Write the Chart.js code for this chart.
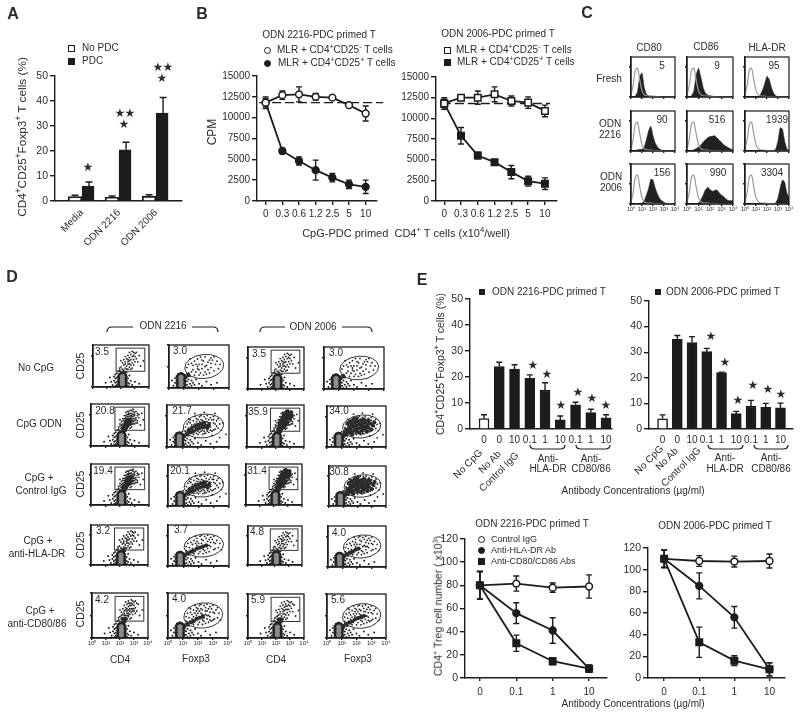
<!DOCTYPE html>
<html>
<head>
<meta charset="utf-8">
<script src="https://cdn.jsdelivr.net/npm/chart.js@4"></script>
<style>
  html, body { margin: 0; padding: 0; background: #fff; }
  #page { position: relative; width: 800px; height: 714px; overflow: hidden; font-family: "Liberation Sans", Arial, sans-serif; color: #2b2b2b; filter: blur(0.3px); }
  canvas { position: absolute; }
  .t { position: absolute; white-space: nowrap; transform: translate(-50%, -50%); line-height: 1; }
  .l { position: absolute; white-space: nowrap; transform: translateY(-50%); line-height: 1; }
  sup { font-size: 70%; line-height: 0; }
  svg { position: absolute; left: 0; top: 0; }
</style>
</head>
<body>
<div id="page"></div>
<script>
// panel A
const aCategories = ['Media', 'ODN 2216', 'ODN 2006'];
const aGroups = [0, 1, 2];
const aNoPdc = [1.8, 1.5, 2];
const aNoPdcErr = [0.5, 0.5, 0.5];
const aPdc = [6, 20.5, 35.2];
const aPdcErr = [1.6, 3, 6.2];
const aTicksY = [0, 50, 10];

// panel B
const bDoses = ['0', '0.3', '0.6', '1.2', '2.5', '5', '10'];
const bIndex = [0, 1, 2, 3, 4, 5, 6];
const dashLevel = 11800;
const b1Open = [11800, 12700, 12800, 12500, 12400, 11500, 10500];
const b1OpenErr = [700, 500, 900, 400, 200, 300, 900];
const b1Filled = [11800, 6000, 4800, 3700, 2800, 2000, 1700];
const b1FilledErr = [500, 300, 500, 1200, 500, 500, 800];
const b2Open = [11800, 12500, 12500, 12900, 12100, 11900, 10900];
const b2OpenErr = [700, 300, 800, 900, 600, 700, 700];
const b2Filled = [11800, 7900, 5500, 4700, 3500, 2400, 2100];
const b2FilledErr = [500, 1000, 400, 300, 800, 600, 700];

// panel C, histogram heights over log bins 0, 0.2 ... 4
const logBins = [0, .2, .4, .6, .8, 1, 1.2, 1.4, 1.6, 1.8, 2, 2.2, 2.4, 2.6, 2.8, 3, 3.2, 3.4, 3.6, 3.8, 4];
const isotype = [4, 30, 68, 72, 42, 16, 6, 3, 2, 2, 1, 1, 1, 1, 0, 0, 0, 0, 0, 0, 0];
const histFresh80 = [0, 0, 2, 14, 52, 60, 24, 7, 3, 2, 2, 2, 1, 1, 1, 1, 0, 0, 0, 0, 0];
const histFresh86 = [0, 0, 3, 15, 55, 72, 50, 24, 10, 5, 3, 2, 1, 1, 1, 1, 0, 0, 0, 0, 0];
const histFreshDr = [0, 0, 0, 0, 0, 0, 1, 6, 18, 34, 52, 44, 24, 10, 3, 1, 1, 0, 0, 0, 0];
const hist2216_80 = [0, 0, 1, 3, 4, 4, 10, 28, 50, 62, 38, 20, 10, 5, 2, 1, 1, 0, 0, 0, 0];
const hist2216_86 = [0, 0, 1, 3, 6, 10, 15, 22, 28, 33, 36, 37, 38, 33, 27, 22, 15, 12, 8, 5, 3];
const hist2216_Dr = [0, 0, 0, 0, 0, 0, 0, 0, 0, 0, 0, 0, 0, 1, 5, 25, 58, 55, 25, 6, 1];
const hist2006_80 = [0, 0, 0, 0, 0, 2, 8, 22, 38, 62, 60, 40, 25, 14, 8, 4, 2, 1, 1, 0, 0];
const hist2006_86 = [0, 0, 0, 0, 0, 2, 10, 22, 35, 42, 36, 32, 34, 35, 28, 22, 18, 12, 9, 8, 8];
const hist2006_Dr = [0, 0, 0, 0, 0, 0, 0, 0, 0, 0, 0, 0, 0, 0, 3, 15, 40, 60, 55, 28, 15];
const histRows = [[histFresh80, histFresh86, histFreshDr], [hist2216_80, hist2216_86, hist2216_Dr], [hist2006_80, hist2006_86, hist2006_Dr]];
const histNumbers = [['5', '9', '95'], ['90', '516', '1939'], ['156', '990', '3304']];
const logTickLabels = ['10⁰', '10¹', '10²', '10³', '10⁴'];

// panel D, events in decades (x, y)
const cd4Core = [[2.1, .3], [2.1, .65], [2.1, 1]];
const cd4Low = [[1.4, .2], [1.5, .6], [1.5, 1], [1.6, .1], [1.6, .4], [1.6, .8], [1.6, 1.2], [1.7, .2], [1.7, .5], [1.7, .9], [1.7, 1.3], [1.8, .1], [1.8, .3], [1.8, .7], [1.8, 1], [1.8, 1.5], [1.9, .2], [1.9, .6], [1.9, 1.2], [1.9, 1.6], [2, .1], [2, .4], [2, 1.4], [2.1, .1], [2.1, 1.3], [2.1, 1.7], [2.2, .2], [2.2, .9], [2.2, 1.5], [2.3, .1], [2.3, .5], [2.3, .8], [2.3, 1.2], [2.4, .2], [2.4, .6], [2.4, 1], [2.4, 1.4], [2.5, .1], [2.5, .4], [2.5, .8], [2.6, .3], [2.6, 1.1], [2.7, .6], [2.8, .2], [1.3, .5], [1.2, .9], [3, .5], [3.3, .3], [.9, .4]];
const cd4High = [[2.3, 1.8], [2.5, 2.2], [2.7, 2.6], [2.9, 3], [2.6, 3.3], [2.2, 2.1], [2.8, 2.3], [3.1, 2.7], [2.4, 2.7], [2.6, 1.9], [2, 1.9], [2.3, 2.4], [2.9, 2.6], [2.7, 3.1], [3, 3.2], [2.5, 1.7], [2.1, 2.3], [3.2, 2.4], [2.8, 1.8], [2.4, 2], [2.6, 2.5], [3, 2.9], [2.5, 3], [2.8, 3.4], [2.2, 1.6], [2.7, 2.1], [3.3, 3], [2.3, 2.9], [2.9, 2.1], [2.5, 2.4], [2.6, 2.8], [3.1, 3.3], [2, 2.5], [2.4, 1.7], [2.8, 2.9], [3.4, 2], [2.7, 1.7], [2.3, 2.2], [2.9, 3.3], [2.6, 2.2], [3.6, 2.5], [1.9, 1.8], [2.2, 2.6], [3, 2.4], [2.5, 2.6], [2.7, 2.9], [2.4, 3.2], [2.8, 2.6], [3.2, 3.1], [2.1, 2], [2.6, 3.1], [2.9, 2.4], [2.3, 2], [2.7, 2.4], [3.1, 2.2], [2.5, 2], [2.8, 3.1], [2.4, 2.5], [3, 2.6], [2.6, 2], [2.2, 2.4], [2.9, 2.8], [2.7, 3.4], [3.3, 2.7], [2.3, 2.6], [2.5, 2.8], [2.8, 2.1], [3, 3], [2.4, 2.3], [2.6, 2.6], [2.1, 1.7], [2.7, 2.2], [3.2, 2.9], [2.9, 3.5], [2.5, 3.3], [3.5, 3.1], [2, 2.1], [2.8, 2.4], [2.3, 1.7], [2.6, 2.4], [3.1, 2.5], [2.7, 2.7], [2.4, 2.9], [2.9, 2.3], [3, 2.1], [2.2, 1.9], [2.5, 2.5], [2.8, 2.8], [2.6, 3], [3.2, 2.2]];
const cd4Dense = [[2.2, 1.3], [2.3, 1.5], [2.2, 1.7], [2.4, 1.7], [2.5, 1.9], [2.3, 1.9], [2.5, 2.1], [2.4, 2.2], [2.6, 2.3], [2.7, 2.1], [2.5, 2.5], [2.7, 2.5], [2.6, 2.7], [2.8, 2.7], [2.7, 2.9], [2.9, 2.9], [2.8, 3.1], [3, 3.1], [2.9, 3.3], [2.6, 3.1], [3.1, 3.3], [2.4, 2.5], [2.8, 2.3], [2.2, 1.5], [2.6, 1.9], [3, 2.7], [2.5, 2.8], [2.8, 3.4], [3.1, 2.9], [2.3, 2.2]];
const foxCore = [[.8, .3], [.8, .65], [.8, 1]];
const foxLow = [[.3, .2], [.4, .5], [.4, .9], [.5, .1], [.5, .4], [.5, .7], [.5, 1.1], [.6, .2], [.6, .9], [.6, 1.3], [.7, .1], [.7, 1.2], [.8, 1.4], [.9, 1.3], [1, .1], [1, .5], [1, 1.2], [1.1, .2], [1.1, .7], [1.1, 1], [1.2, .3], [1.2, .6], [1.2, 1.3], [1.3, .1], [1.3, .8], [1.4, .4], [1.4, 1.1], [1.5, .2], [1.5, .7], [1.6, .5], [1.7, .3], [1.8, .8], [2, .4], [2.2, .2], [2.5, .6], [2.8, .3], [3.2, .5], [.2, .7]];
const foxHigh = [[1.3, 1.4], [1.6, 1.7], [1.9, 2], [2.2, 1.8], [2.5, 2.1], [2.8, 1.9], [3.1, 2.2], [1.5, 2.3], [1.9, 2.7], [2.3, 2.5], [2.7, 2.6], [3, 2.9], [1.2, 1.9], [1.7, 1.2], [2.1, 1.4], [2.4, 1.5], [2.6, 1.7], [3.3, 1.8], [1.4, 2.7], [2, 2.2], [2.4, 2.9], [2.8, 2.3], [1.8, 1.5], [2.2, 2.2], [2.6, 2.4], [3, 1.6], [1.6, 2.1], [2, 1.7], [2.5, 1.3], [2.9, 2.6], [1.1, 1.2], [1.7, 2.5], [2.1, 2.9], [2.3, 1.2], [2.7, 1.4], [3.2, 2.5], [3.4, 2.2], [1.5, 1.5], [1.9, 1.8], [2.4, 2], [2.8, 2.8], [2, 1.2], [1.3, 2.2], [1.8, 2.2], [2.2, 2.6], [2.6, 2], [3.1, 1.7], [1.6, 1.3], [2.1, 1.9], [2.5, 2.7], [1.4, 1.8], [1.9, 2.4], [2.3, 1.6], [2.7, 2], [3, 2.3], [3.5, 1.6], [1.8, 2.9], [2.2, 3], [2.6, 3], [1.2, 1.5], [1.7, 1.9], [2.1, 2.4], [2.4, 1.8], [2.9, 1.5], [3.3, 2.7], [1.5, 2.6], [2, 2.6], [2.5, 2.4], [2.8, 1.6], [2.3, 2.1], [3, 2.6], [1.6, 1.5], [2, 1.5], [2.4, 1.3], [2.7, 2.3], [1.9, 1.3], [2.2, 1.5], [2.6, 1.5], [3.2, 2], [3.6, 2.3], [1, 1.5], [1.4, 2.4], [3.8, 1.2], [3.4, .9], [2.9, 1.1], [3.1, 3.2], [2.4, 3.3], [1.8, 3.2]];
const foxDense = [[1.1, 1], [1.3, 1.2], [1.5, 1.4], [1.7, 1.5], [1.9, 1.7], [2.1, 1.8], [2.3, 1.9], [2.5, 2], [2.7, 2.1], [1.6, 1.8], [1.8, 2], [2, 2.1], [2.2, 2.2], [2.4, 2.3], [1.4, 1.6], [2.6, 1.8], [2, 1.5], [2.8, 1.9], [1.7, 2.2], [1.5, 2], [2.1, 2.5], [2.4, 1.6], [1.9, 2.4], [2.6, 2.4], [2.9, 2.3], [1.3, 1.7], [1.6, 2.5], [2.3, 2.6], [2.7, 1.5], [3.1, 2.1], [1.8, 2.7], [2.2, 1.4], [2.8, 2.6], [1.4, 2.3], [3, 1.7], [2, 2.8], [2.5, 2.7], [1.2, 1.4], [3.2, 2.4], [1.7, 1.2]];
const highCounts = [[45, 45, 45, 45], [90, 88, 90, 88], [90, 88, 90, 88], [45, 60, 45, 60], [60, 70, 50, 70]];
const denseCounts = [[1, 2, 1, 2], [12, 16, 30, 40], [14, 16, 30, 40], [2, 8, 1, 6], [4, 7, 4, 8]];
const dotPercents = [['3.5', '3.0', '3.5', '3.0'], ['20.8', '21.7', '35.9', '34.0'], ['19.4', '20.1', '31.4', '30.8'], ['3.2', '3.7', '4.8', '4.0'], ['4.2', '4.0', '5.9', '5.6']];

// panel E
const eDoses = ['0', '0', '10', '0.1', '1', '10', '0.1', '1', '10'];
const eIndex = [0, 1, 2, 3, 4, 5, 6, 7, 8];
const e1Values = [4, 24, 23, 19.5, 15, 3.5, 9.3, 6.3, 4.3];
const e1Err = [1.5, 1.7, 1.7, 1.3, 2.8, 1.5, 1, 1.3, 1.2];
const e2Values = [4, 35, 33.8, 30.2, 22, 6, 9, 8.5, 8.3];
const e2Err = [1.5, 1.5, 2.3, 1.3, 0.2, 0.9, 2.2, 1.5, 1.8];
const eConc = ['0', '0.1', '1', '10'];
const eConcIndex = [0, 1, 2, 3];
const e3Control = [80, 81.5, 78, 79];
const e3ControlErr = [12, 6.5, 4, 10];
const e3Hla = [80, 56, 41, 8];
const e3HlaErr = [12, 9, 11, 3];
const e3Cd = [80, 30, 14.5, 8];
const e3CdErr = [12, 7, 3, 3];
const e4Control = [110, 108, 107.5, 108];
const e4ControlErr = [8, 5, 5, 6.5];
const e4Hla = [110, 85, 56, 8];
const e4HlaErr = [8, 12, 10, 6];
const e4Cd = [110, 33, 16, 8];
const e4CdErr = [8, 14, 4.5, 6];

const page = document.getElementById('page');
const INK = '#1c1c1c';
const FONT = '"Liberation Sans", Arial, sans-serif';

Chart.defaults.font.family = FONT;
Chart.defaults.color = '#2b2b2b';
Chart.defaults.animation = false;

const label = (html, x, y, size, extra) => {
    const d = document.createElement('div');
    d.className = 't';
    d.innerHTML = html;
    d.style.left = x + 'px';
    d.style.top = y + 'px';
    d.style.fontSize = (size || 10) + 'px';
    if (extra) d.style.cssText += extra;
    page.appendChild(d);
};
const leftLabel = (html, x, y, size) => {
    const d = document.createElement('div');
    d.className = 'l';
    d.innerHTML = html;
    d.style.left = x + 'px';
    d.style.top = y + 'px';
    d.style.fontSize = (size || 10) + 'px';
    page.appendChild(d);
};
const rotated = (html, x, y, size, deg) => label(html, x, y, size, `transform:translate(-50%,-50%) rotate(${deg}deg);`);
const swatch = (x, y, s, fill, round) => {
    const d = document.createElement('div');
    d.style.cssText = `position:absolute;box-sizing:border-box;left:${x - s / 2}px;top:${y - s / 2}px;width:${s}px;height:${s}px;background:${fill};border:1.5px solid ${INK};${round ? 'border-radius:50%;' : ''}`;
    page.appendChild(d);
};
const star = (x, y) => label('★', x, y, 12, 'font-family:"DejaVu Sans";');

// error bars read from dataset.err, through the chart's own scales
const errorBars = {
    id: 'errorBars',
    beforeDatasetsDraw(chart) {
        const { ctx, scales } = chart;
        chart.data.datasets.forEach(ds => {
            if (!ds.err) return;
            ctx.save();
            ctx.strokeStyle = INK;
            ctx.lineWidth = 1.4;
            ds.data.forEach((p, i) => {
                const px = scales.x.getPixelForValue(p.x) + (ds.errShift || 0);
                const top = scales.y.getPixelForValue(p.y + ds.err[i]);
                const bot = ds.upOnly ? scales.y.getPixelForValue(p.y) : scales.y.getPixelForValue(p.y - ds.err[i]);
                const cap = ds.capSize || 3;
                ctx.beginPath();
                ctx.moveTo(px, bot);
                ctx.lineTo(px, top);
                ctx.moveTo(px - cap, top);
                ctx.lineTo(px + cap, top);
                if (!ds.upOnly) {
                    ctx.moveTo(px - cap, bot);
                    ctx.lineTo(px + cap, bot);
                }
                ctx.stroke();
            });
            ctx.restore();
        });
    }
};

const frame = (w, color) => ({
    id: 'frame',
    afterDraw(chart) {
        const { ctx, chartArea: a } = chart;
        ctx.save();
        ctx.strokeStyle = color || INK;
        ctx.lineWidth = w || 1.3;
        ctx.strokeRect(a.left, a.top, a.right - a.left, a.bottom - a.top);
        ctx.restore();
    }
});

const rectGate = (x0, x1, y0, y1) => ({
    id: 'rectGate',
    afterDatasetsDraw(chart) {
        const { ctx, scales: { x, y } } = chart;
        ctx.save();
        ctx.strokeStyle = '#333';
        ctx.lineWidth = 1;
        ctx.strokeRect(x.getPixelForValue(x0), y.getPixelForValue(y1), x.getPixelForValue(x1) - x.getPixelForValue(x0), y.getPixelForValue(y0) - y.getPixelForValue(y1));
        ctx.restore();
    }
});

const ellipseGate = (cx, cy, rx, ry, rot) => ({
    id: 'ellipseGate',
    afterDatasetsDraw(chart) {
        const { ctx, scales: { x, y } } = chart;
        ctx.save();
        ctx.strokeStyle = '#333';
        ctx.lineWidth = 1;
        ctx.beginPath();
        ctx.ellipse(x.getPixelForValue(cx), y.getPixelForValue(cy), Math.abs(x.getPixelForValue(cx + rx) - x.getPixelForValue(cx)), Math.abs(y.getPixelForValue(cy + ry) - y.getPixelForValue(cy)), rot || 0, 0, Math.PI * 2);
        ctx.stroke();
        ctx.restore();
    }
});

const noPadding = s => {
    s.paddingLeft = 0;
    s.paddingRight = 0;
    s.paddingTop = 0;
    s.paddingBottom = 0;
};

// box is the plot area on the page, pad the room round it for ticks
const makeChart = (box, pad, config, extraPlugins) => {
    const c = document.createElement('canvas');
    const w = box.r - box.l + pad.l + pad.r;
    const h = box.b - box.t + pad.t + pad.b;
    c.width = w;
    c.height = h;
    c.style.left = (box.l - pad.l) + 'px';
    c.style.top = (box.t - pad.t) + 'px';
    c.style.width = w + 'px';
    c.style.height = h + 'px';
    page.appendChild(c);
    const { x, y } = config.options.scales;
    x.afterFit = s => { s.height = pad.b; noPadding(s); };
    y.afterFit = s => { s.width = pad.l; noPadding(s); };
    config.options.responsive = false;
    config.options.maintainAspectRatio = false;
    config.options.layout = { padding: { left: 0, right: pad.r, top: pad.t, bottom: 0 } };
    config.options.plugins = { legend: { display: false }, tooltip: { enabled: false } };
    config.plugins = [errorBars].concat(extraPlugins || []);
    return new Chart(c, config);
};

const axisStyle = (tickLen, w) => ({
    grid: { display: true, drawOnChartArea: false, drawTicks: tickLen > 0, tickLength: tickLen, color: INK, lineWidth: w || 1.4, offset: false },
    border: { display: true, color: INK, width: w || 1.4 }
});

const yAxis = (min, max, step, size) => ({
    type: 'linear', min, max,
    ...axisStyle(5),
    ticks: { stepSize: step, font: { size: size || 10.5 }, padding: 2, callback: v => String(v) }
});

const xAxis = (min, max, vals, names, opts) => {
    const o = opts || {};
    return {
        type: 'linear', min, max, offset: false,
        ...axisStyle(o.tick === undefined ? 4 : o.tick),
        afterBuildTicks: s => { s.ticks = vals.map(v => ({ value: v })); },
        ticks: {
            autoSkip: false, font: { size: o.size || 10 }, padding: o.padding === undefined ? 3 : o.padding,
            minRotation: o.rot || 0, maxRotation: o.rot || 0,
            callback: (v, i) => names[i]
        }
    };
};

const pts = (xs, ys) => xs.map((x, i) => ({ x, y: ys[i] }));

/* ---------- A ---------- */
makeChart({ l: 55, r: 182, t: 76, b: 201 }, { l: 30, r: 8, t: 8, b: 50 }, {
    type: 'bar',
    data: {
        datasets: [
            { data: pts(aGroups, aNoPdc), err: aNoPdcErr, upOnly: true, errShift: -7, capSize: 3.5, backgroundColor: '#fff', borderColor: INK, borderWidth: 2, barThickness: 14 },
            { data: pts(aGroups, aPdc), err: aPdcErr, upOnly: true, errShift: 7, capSize: 3.5, backgroundColor: INK, borderColor: INK, borderWidth: 1, barThickness: 12 }
        ]
    },
    options: { scales: { x: xAxis(-0.73, 2.7, aGroups, aCategories, { rot: 45, tick: 0, padding: 6 }), y: yAxis(aTicksY[0], aTicksY[1], aTicksY[2]) } }
});
swatch(71.5, 48, 7, '#fff');
swatch(71.5, 61, 7, INK);
leftLabel('No PDC', 82, 48, 10);
leftLabel('PDC', 82, 61, 10);
rotated('CD4<sup>+</sup>CD25<sup>+</sup>Foxp3<sup>+</sup> T cells (%)', 23, 137, 11.8, -90);
star(88, 167); star(120, 113); star(130, 113); star(124, 124); star(158, 67); star(168, 67); star(162, 78);

/* ---------- B ---------- */
const lineSet = (xs, ys, errs, style, filled) => ({
    data: pts(xs, ys), err: errs, capSize: 3, showLine: true,
    borderColor: INK, borderWidth: 1.8, tension: 0,
    pointStyle: style, pointRadius: style === 'rect' ? 4.6 : 3.4, pointBorderWidth: 1.5, pointBorderColor: INK,
    pointBackgroundColor: filled ? INK : '#fff'
});
const dashSet = (xs) => ({
    data: xs.map(x => ({ x, y: dashLevel })), showLine: true, borderColor: INK, borderWidth: 1.4, borderDash: [9, 4],
    pointRadius: 0, clip: false
});
const bPanel = (box, xMin, xMax, open, openErr, filled, filledErr, style, dashXs) => makeChart(box, { l: 40, r: 10, t: 8, b: 20 }, {
    type: 'scatter',
    data: { datasets: [lineSet(bIndex, open, openErr, style, false), lineSet(bIndex, filled, filledErr, style, true), dashSet(dashXs)] },
    options: { scales: { x: xAxis(xMin, xMax, bIndex, bDoses, { size: 10 }), y: yAxis(0, 15000, 2500, 10) } }
});
bPanel({ l: 257, r: 377, t: 76, b: 201 }, -0.52, 6.68, b1Open, b1OpenErr, b1Filled, b1FilledErr, 'circle', [-0.4, 7.05]);
bPanel({ l: 436, r: 557, t: 77, b: 201 }, -0.49, 6.72, b2Open, b2OpenErr, b2Filled, b2FilledErr, 'rect', [-0.14, 6.3]);
label('ODN 2216-PDC primed T', 319, 35, 10);
label('ODN 2006-PDC primed T', 498, 34, 10);
swatch(267, 50, 7, '#fff', true);
swatch(267, 63, 7, INK, true);
swatch(447, 50, 7, '#fff');
swatch(447, 62, 7, INK);
leftLabel('MLR + CD4<sup>+</sup>CD25<sup>-</sup> T cells', 277, 50, 10);
leftLabel('MLR + CD4<sup>+</sup>CD25<sup>+</sup> T cells', 278, 63, 10);
leftLabel('MLR + CD4<sup>+</sup>CD25<sup>-</sup> T cells', 456, 50, 10);
leftLabel('MLR + CD4<sup>+</sup>CD25<sup>+</sup> T cells', 457, 62, 10);
rotated('CPM', 212, 132, 12, -90);
label('CpG-PDC primed&nbsp; CD4<sup>+</sup> T cells (x10<sup>4</sup>/well)', 406, 233, 11);
label('B', 202, 14, 16, 'font-weight:bold;');

/* ---------- C ---------- */
const histCols = [[631, 675], [687, 733], [745, 789]];
const histTops = [[57, 97], [111, 151], [164, 204]];
histRows.forEach((row, r) => row.forEach((vals, c) => {
    const box = { l: histCols[c][0], r: histCols[c][1], t: histTops[r][0], b: histTops[r][1] };
    makeChart(box, { l: 9, r: 6, t: 2, b: r === 2 ? 12 : 3 }, {
        type: 'scatter',
        data: {
            datasets: [
                { data: pts(logBins, isotype), showLine: true, borderColor: '#9a9a9a', borderWidth: 1.2, pointRadius: 0, tension: 0.3, fill: false },
                { data: pts(logBins, vals), showLine: true, borderColor: '#222', backgroundColor: '#222', borderWidth: 0.6, pointRadius: 0, tension: 0.15, fill: 'origin' }
            ]
        },
        options: {
            scales: {
                x: xAxis(0, 4, [0, 1, 2, 3, 4], r === 2 ? logTickLabels : ['', '', '', '', ''], { size: 5.5, tick: 2, padding: 0 }),
                y: { type: 'linear', min: 0, max: 100, ...axisStyle(2), ticks: { stepSize: 25, callback: () => '' } }
            }
        }
    }, [frame(1.2)]);
}));
label('CD80', 649, 48, 10);
label('CD86', 706, 47, 10);
label('HLA-DR', 767, 48, 10);
label('Fresh', 609, 79, 10);
label('ODN', 610, 124, 10);
label('2216', 610, 135, 10);
label('ODN', 611, 177, 10);
label('2006', 611, 188, 10);
const histNumberXs = [[662, 717, 774], [662, 717, 777], [662, 718, 772]];
const histNumberYs = [66, 120, 173];
histNumbers.forEach((row, r) => row.forEach((n, c) => label(n, histNumberXs[r][c], histNumberYs[r], 10)));
label('C', 587, 13, 16, 'font-weight:bold;');

/* ---------- D ---------- */
const dotFrames = [
    [[92, 342, 149, 389], [168, 342, 229, 390], [247, 344, 304, 391], [323, 344, 384, 391]],
    [[90, 401, 149, 448], [166, 402, 229, 449], [246, 402, 304, 449], [326, 403, 386, 449]],
    [[90, 461, 149, 507], [167, 462, 229, 508], [245, 461, 302, 507], [328, 463, 386, 508]],
    [[90, 522, 148, 567], [167, 522, 229, 568], [247, 523, 302, 567], [327, 523, 386, 569]],
    [[91, 590, 148, 638], [167, 590, 228, 638], [247, 591, 304, 638], [326, 591, 386, 638]]
];
const percentPos = [
    [[102, 352], [180, 351], [259, 354], [336, 353]],
    [[105, 411], [182, 411], [258, 412], [339, 411]],
    [[103, 471], [180, 471], [257, 471], [339, 472]],
    [[103, 531], [181, 530], [257, 532], [339, 533]],
    [[102, 600], [179, 599], [258, 600], [338, 600]]
];
const toPoints = arr => arr.map(p => ({ x: p[0], y: p[1] }));
dotFrames.forEach((row, r) => row.forEach((f, c) => {
    const isCd4 = c % 2 === 0;
    const core = isCd4 ? cd4Core : foxCore;
    const low = isCd4 ? cd4Low : foxLow;
    const high = (isCd4 ? cd4High : foxHigh).slice(0, highCounts[r][c]);
    const dense = (isCd4 ? cd4Dense : foxDense).slice(0, denseCounts[r][c]);
    const gate = isCd4 ? rectGate(1.65, 3.7, 1.5, 3.7) : ellipseGate(2.35, 2, 1.3, 1.12, -0.1);
    makeChart({ l: f[0], r: f[2], t: f[1], b: f[3] }, { l: 4, r: 6, t: 2, b: r === 4 ? 12 : 3 }, {
        type: 'scatter',
        data: {
            datasets: [
                { data: toPoints(core), pointRadius: 2.6, backgroundColor: '#8a8a8a', borderWidth: 0 },
                { data: toPoints(core), pointRadius: 5, backgroundColor: '#222', borderWidth: 0 },
                { data: toPoints(dense), pointRadius: 2.1, backgroundColor: '#2a2a2a', borderWidth: 0 },
                { data: toPoints(low), pointRadius: 1, backgroundColor: '#222', borderWidth: 0 },
                { data: toPoints(high), pointRadius: 0.9, backgroundColor: '#222', borderWidth: 0 }
            ]
        },
        options: {
            scales: {
                x: xAxis(0, 4, [0, 1, 2, 3, 4], r === 4 ? logTickLabels : ['', '', '', '', ''], { size: 6, tick: 2, padding: 0 }),
                y: { type: 'linear', min: 0, max: 4, ...axisStyle(2), ticks: { stepSize: 1, callback: () => '' } }
            }
        }
    }, [frame(1.3), gate]);
    label(dotPercents[r][c], percentPos[r][c][0], percentPos[r][c][1], 10);
    if (c === 0) rotated('CD25', 80, (f[1] + f[3]) / 2, 10.5, -90);
}));
label('No CpG', 36, 368, 10);
label('CpG ODN', 39, 424, 10);
label('CpG +', 39, 478, 10);
label('Control IgG', 41, 491, 10);
label('CpG +', 38, 541, 10);
label('anti-HLA-DR', 37, 554, 10);
label('CpG +', 40, 611, 10);
label('anti-CD80/86', 37, 624, 10);
label('CD4', 120, 660, 10);
label('Foxp3', 196, 659, 10);
label('CD4', 276, 660, 10);
label('Foxp3', 358, 659, 10);
label('ODN 2216', 163, 326, 10);
label('ODN 2006', 313, 327, 10);
label('D', 12, 277, 16, 'font-weight:bold;');

// brackets over D and under the antibody groups in E
const bracketDown = (a, b, c, d, y) => `M${a} ${y + 5} Q${a} ${y} ${a + 5} ${y} L${b} ${y} M${c} ${y} L${d - 5} ${y} Q${d} ${y} ${d} ${y + 5}`;
const bracketUp = (a, b, y) => `M${a} ${y - 2} Q${a} ${y + 2} ${a + 5} ${y + 2} L${b - 5} ${y + 2} Q${b} ${y + 2} ${b} ${y - 2}`;
const paths = [bracketDown(107, 133, 192, 218, 327), bracketDown(260, 285, 342, 372, 327), bracketUp(530, 565, 447), bracketUp(576, 610, 447), bracketUp(708, 743, 447), bracketUp(754, 788, 447)];
page.insertAdjacentHTML('beforeend', `<svg width="800" height="714" fill="none" stroke="${INK}" stroke-width="1.2">${paths.map(d => `<path d="${d}"/>`).join('')}</svg>`);

/* ---------- E bars ---------- */
const ePanel = (box, xMin, xMax, values, errs) => makeChart(box, { l: 30, r: 6, t: 8, b: 22 }, {
    type: 'bar',
    data: {
        datasets: [{
            data: pts(eIndex, values), err: errs, upOnly: true, capSize: 3,
            backgroundColor: values.map((v, i) => i === 0 ? '#fff' : INK), borderColor: INK, borderWidth: 1.5, barThickness: 10
        }]
    },
    options: { scales: { x: xAxis(xMin, xMax, eIndex, eDoses, { tick: 0, padding: 5, size: 10 }), y: yAxis(0, 50, 10) } }
});
ePanel({ l: 470, r: 612, t: 299, b: 429 }, -0.92, 8.39, e1Values, e1Err);
ePanel({ l: 649, r: 793, t: 301, b: 429 }, -0.92, 8.85, e2Values, e2Err);
swatch(482, 292, 6, INK);
swatch(658, 292, 6, INK);
leftLabel('ODN 2216-PDC primed T', 492, 292, 10);
leftLabel('ODN 2006-PDC primed T', 666, 292, 10);
rotated('CD4<sup>+</sup>CD25<sup>+</sup>Foxp3<sup>+</sup> T cells (%)', 440, 364, 10.5, -90);
rotated('No CpG', 468, 464, 10, -45);
rotated('No Ab', 490, 462, 10, -45);
rotated('Control IgG', 499, 472, 10, -45);
rotated('No CpG', 649, 460, 10, -45);
rotated('No Ab', 667, 459, 10, -45);
rotated('Control IgG', 681, 467, 10, -45);
label('Anti-', 548, 459, 10);
label('HLA-DR', 548, 469, 10);
label('Anti-', 591, 459, 10);
label('CD80/86', 591, 469, 10);
label('Anti-', 725, 458, 10);
label('HLA-DR', 725, 469, 10);
label('Anti-', 771, 458, 10);
label('CD80/86', 771, 469, 10);
label('Antibody Concentrations (µg/ml)', 633, 491, 10);
[[533, 365], [547, 374], [561, 405], [578, 392], [592, 398], [606, 405], [711, 336], [725, 362], [738, 400], [753, 385], [768, 389], [781, 394]].forEach(s => star(s[0], s[1]));
label('E', 422, 280, 16, 'font-weight:bold;');

/* ---------- E lines ---------- */
const treg = (box, xMin, xMax, control, controlErr, hla, hlaErr, cd, cdErr) => makeChart(box, { l: 30, r: 6, t: 8, b: 22 }, {
    type: 'scatter',
    data: {
        datasets: [
            lineSet(eConcIndex, cd, cdErr, 'rect', true),
            lineSet(eConcIndex, hla, hlaErr, 'circle', true),
            lineSet(eConcIndex, control, controlErr, 'circle', false)
        ]
    },
    options: { scales: { x: xAxis(xMin, xMax, eConcIndex, eConc, { tick: 3, size: 10, padding: 5 }), y: yAxis(0, 120, 20) } }
});
treg({ l: 465, r: 607, t: 539, b: 678 }, -0.41, 3.49, e3Control, e3ControlErr, e3Hla, e3HlaErr, e3Cd, e3CdErr);
treg({ l: 648, r: 785, t: 548, b: 678 }, -0.46, 3.44, e4Control, e4ControlErr, e4Hla, e4HlaErr, e4Cd, e4CdErr);
label('ODN 2216-PDC primed T', 532, 524, 10);
label('ODN 2006-PDC primed T', 715, 526, 10);
swatch(481, 539, 7, '#fff', true);
swatch(481, 550, 7, INK, true);
swatch(481, 561, 7, INK);
leftLabel('Control IgG', 491, 539, 9);
leftLabel('Anti-HLA-DR Ab', 491, 550, 9);
leftLabel('Anti-CD80/CD86 Abs', 491, 561, 9);
rotated('CD4<sup>+</sup> Treg cell number ( x10<sup>3</sup>)', 438, 606, 10.5, -90);
label('Antibody Concentrations (µg/ml)', 633, 704, 10);
label('A', 13, 14, 16, 'font-weight:bold;');
</script>
</body>
</html>
